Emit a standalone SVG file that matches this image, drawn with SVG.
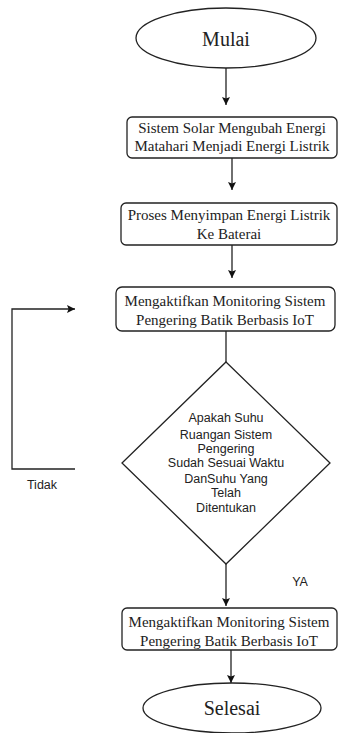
<svg xmlns="http://www.w3.org/2000/svg" width="338" height="733" viewBox="0 0 338 733">
<defs>
<marker id="ah" viewBox="0 0 10 10" refX="10" refY="5" markerWidth="8" markerHeight="8" markerUnits="userSpaceOnUse" orient="auto">
<path d="M0,0 L10,5 L0,10 L2,5 Z" fill="#111"/>
</marker>
</defs>
<style>
.s{fill:#fff;stroke:#222;stroke-width:1.3}
.t{font-family:"Liberation Serif","Times New Roman",serif;font-size:15px;fill:#222;text-anchor:middle}
.big{font-size:20px}
.d{font-family:"Liberation Sans",Arial,sans-serif;font-size:12.5px;fill:#222;text-anchor:middle}
.l{fill:none;stroke:#222;stroke-width:1.3}
</style>
<rect width="338" height="733" fill="#fff"/>
<g id="connectors">
<line class="l" x1="226" y1="68" x2="226" y2="105" marker-end="url(#ah)"/>
<line class="l" x1="232" y1="158" x2="232" y2="190" marker-end="url(#ah)"/>
<line class="l" x1="232" y1="245" x2="232" y2="278" marker-end="url(#ah)"/>
<line class="l" x1="226" y1="331" x2="226" y2="362"/>
<line class="l" x1="226" y1="564" x2="226" y2="606" marker-end="url(#ah)"/>
<line class="l" x1="231" y1="650" x2="231" y2="683" marker-end="url(#ah)"/>
<polyline class="l" points="75,469 12,469 12,309 75,309" marker-end="url(#ah)"/>
</g>
<g id="mulai">
<ellipse class="s" cx="226" cy="38" rx="90" ry="30"/>
<text class="t big" x="226" y="46">Mulai</text>
</g>
<g id="box1">
<rect class="s" x="127" y="117" width="210" height="41" rx="5"/>
<text class="t" x="232" y="133">Sistem Solar Mengubah Energi</text>
<text class="t" x="232" y="151">Matahari Menjadi Energi Listrik</text>
</g>
<g id="box2">
<rect class="s" x="121" y="203" width="216" height="42" rx="5"/>
<text class="t" x="229" y="220">Proses Menyimpan Energi Listrik</text>
<text class="t" x="229" y="239">Ke Baterai</text>
</g>
<g id="box3">
<rect class="s" x="116" y="287" width="219" height="44" rx="6"/>
<text class="t" x="225" y="306">Mengaktifkan Monitoring Sistem</text>
<text class="t" x="225" y="325">Pengering Batik Berbasis IoT</text>
</g>
<g id="decision">
<polygon class="s" points="226,362 330,463 226,564 122,463"/>
<text class="d" x="226" y="422">Apakah Suhu</text>
<text class="d" x="226" y="439">Ruangan Sistem</text>
<text class="d" x="226" y="453">Pengering</text>
<text class="d" x="226" y="467">Sudah Sesuai Waktu</text>
<text class="d" x="226" y="483">DanSuhu Yang</text>
<text class="d" x="226" y="497">Telah</text>
<text class="d" x="226" y="512">Ditentukan</text>
</g>
<g id="box4">
<rect class="s" x="122" y="608" width="215" height="42" rx="5"/>
<text class="t" x="229" y="627">Mengaktifkan Monitoring Sistem</text>
<text class="t" x="229" y="646">Pengering Batik Berbasis IoT</text>
</g>
<g id="selesai">
<ellipse class="s" cx="232" cy="708" rx="89" ry="25"/>
<text class="t big" x="232" y="715">Selesai</text>
</g>
<g id="labels">
<text class="d" x="42" y="489">Tidak</text>
<text class="d" x="300" y="586">YA</text>
</g>
</svg>
